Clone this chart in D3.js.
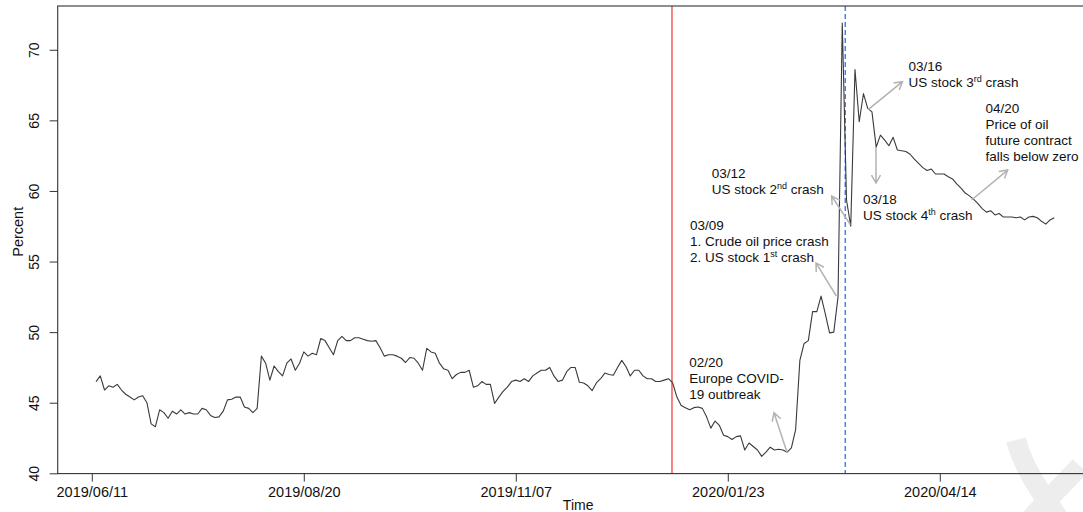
<!DOCTYPE html>
<html><head><meta charset="utf-8">
<script src="https://cdn.jsdelivr.net/npm/d3@7"></script>
<style>
body{margin:0;background:#fff}
svg{display:block}
text{font-family:"Liberation Sans",Arial,Helvetica,sans-serif;fill:#111}
</style>
</head><body>
<svg id="chart" width="1083" height="512"></svg>
<script>
// ---- data (observation index 1..227) ----
const values = [
 46.5,46.9,45.9,46.2,46.1,46.3,45.9,45.6,45.4,45.2,45.4,45.5,45.0,43.5,43.3,44.5,44.3,43.9,44.4,44.2,
 44.5,44.2,44.3,44.2,44.2,44.6,44.5,44.1,43.95,44.0,44.4,45.2,45.25,45.4,45.4,44.7,44.6,44.3,44.6,48.3,
 47.8,46.6,47.6,47.2,46.9,47.8,48.1,47.3,47.8,
 48.6,48.3,48.5,48.4,49.55,49.4,48.9,48.4,49.4,49.7,49.4,49.4,49.6,49.6,49.5,49.4,49.35,49.4,48.9,48.3,
 48.4,48.4,48.3,48.15,47.85,48.2,48.15,47.8,47.3,48.85,48.6,48.5,47.8,47.4,47.3,46.7,47.0,47.15,47.15,47.3,
 46.1,46.2,46.5,46.3,46.3,44.95,45.4,45.8,46.1,
 46.5,46.6,46.5,46.7,46.5,46.9,47.1,47.3,47.3,47.5,46.9,46.5,46.6,47.2,47.5,47.5,46.45,46.4,46.2,45.85,
 46.4,46.7,47.1,47.0,46.95,47.5,48.0,47.55,46.9,47.3,47.3,46.9,46.7,46.7,46.5,46.5,46.6,46.7,46.4,
 45.4,44.8,44.65,44.5,44.65,44.7,44.6,44.0,43.2,43.7,43.4,42.7,42.6,42.4,42.6,42.65,41.65,42.15,41.9,41.65,
 41.2,41.5,41.85,41.65,41.7,41.65,41.5,41.8,43.1,48.0,49.2,49.4,51.45,51.45,52.55,51.3,49.95,50.0,52.5,71.9,
 59.35,57.5,68.6,64.9,66.9,65.85,65.6,63.1,63.95,63.6,63.2,63.8,62.9,62.85,62.8,62.6,62.25,61.95,61.65,61.45,
 61.55,61.2,61.2,61.2,61.0,60.85,60.5,60.2,59.85,59.65,59.4,59.1,58.75,58.5,58.6,58.3,58.4,58.15,58.15,58.15,
 58.1,58.15,57.95,58.15,58.2,58.1,57.85,57.65,57.95,58.1
];
const firstIndex = 1;
const tickIndex = [0, 50, 100, 150, 200];
const tickLabels = ["2019/06/11", "2019/08/20", "2019/11/07", "2020/01/23", "2020/04/14"];
const yTicks = [40, 45, 50, 55, 60, 65, 70];
const eventIndex = [136.84, 177.7];   // 02/20 (red) and 03/12 (blue dashed)

// annotations: text anchor, arrow start, arrow end (index, percent)
const annDates = ["02/20", "03/09", "03/12", "03/16", "03/18", "04/20"];
const annTexts = [
  ["Europe COVID-", "19 outbreak"],
  ["1. Crude oil price crash", "2. US stock 1^st^ crash"],
  ["US stock 2^nd^ crash"],
  ["US stock 3^rd^ crash"],
  ["US stock 4^th^ crash"],
  ["Price of oil", "future contract", "falls below zero"]
];
const annAt   = [[140.9,47.5],[141.1,57.23],[146.2,60.92],[192.6,68.53],[181.9,59.11],[210.8,65.5]];
const annFrom = [[164.0,41.46],[175.6,52.56],[178.9,57.62],[183.1,65.76],[184.95,63.11],[207.5,59.36]];
const annTo   = [[160.9,44.29],[170.8,54.9],[174.5,59.64],[191.2,67.74],[184.95,60.56],[216.0,61.48]];

// ---- drawing ----
const svg = d3.select("#chart");
const n = values.length;
const span = n - 1;
const x = d3.scaleLinear().domain([firstIndex - 0.04*span, firstIndex + span + 0.04*span]).range([57.7, 1092.6]);
const y = d3.scaleLinear().domain([39.98, 73.1]).range([473.6, 6]);
const [x0, x1] = x.range(), [yb, yt] = y.range();

// watermark
const wm = svg.append("g").attr("fill","none").attr("stroke","#ededed").attr("stroke-width",20).attr("stroke-linecap","butt");
wm.append("path").attr("d","M1016,440 C1024,470 1042,494 1060,520");
wm.append("path").attr("d","M1080,466 C1064,484 1046,500 1030,520");

// event lines
svg.append("line").attr("x1",x(eventIndex[0])).attr("x2",x(eventIndex[0])).attr("y1",yt).attr("y2",yb)
  .attr("stroke","#ee3333").attr("stroke-width",1.2);
svg.append("line").attr("x1",x(eventIndex[1])).attr("x2",x(eventIndex[1])).attr("y1",yt).attr("y2",yb)
  .attr("stroke","#2f6bff").attr("stroke-width",1.3).attr("stroke-dasharray","5,3");

// series
const line = d3.line().x((d,i)=>x(firstIndex+i)).y(d=>y(d));
svg.append("path").datum(values).attr("d",line).attr("fill","none")
  .attr("stroke","#3a3a3a").attr("stroke-width",1.1).attr("stroke-linejoin","round");

// frame
svg.append("rect").attr("x",x0).attr("y",yt).attr("width",x1-x0).attr("height",yb-yt)
  .attr("fill","none").attr("stroke","#333").attr("stroke-width",1.1);

// x axis
const gx = svg.append("g").attr("transform",`translate(0,${yb})`)
  .call(d3.axisBottom(x).tickValues(tickIndex).tickFormat((d,i)=>tickLabels[i]).tickSize(8));
gx.select(".domain").remove();
gx.selectAll(".tick line").attr("stroke","#333");
gx.selectAll(".tick text").attr("y",23.5).attr("dy",0).style("font-size","14.5px").attr("fill","#111");

// y axis
const gy = svg.append("g").attr("transform",`translate(${x0},0)`)
  .call(d3.axisLeft(y).tickValues(yTicks).tickSize(8));
gy.select(".domain").remove();
gy.selectAll(".tick line").attr("stroke","#333");
gy.selectAll(".tick text").attr("transform","rotate(-90)").attr("x",0).attr("y",-19).attr("dy",0)
  .attr("text-anchor","middle").style("font-size","14px").attr("fill","#111");

// axis titles
svg.append("text").attr("x",(x0+x1)/2+3).attr("y",510).attr("text-anchor","middle").style("font-size","14px").text("Time");
svg.append("text").attr("transform",`translate(23,${(yt+yb)/2-8}) rotate(-90)`).attr("text-anchor","middle")
  .style("font-size","14.5px").text("Percent");

// annotations
function arrow(g, a, b){
  const [ax,ay] = a, [bx,by] = b;
  const ang = Math.atan2(by-ay, bx-ax), L = 9, t = Math.PI/6;
  const p1 = [bx - L*Math.cos(ang - t), by - L*Math.sin(ang - t)];
  const p2 = [bx - L*Math.cos(ang + t), by - L*Math.sin(ang + t)];
  g.append("path").attr("d",`M${ax},${ay}L${bx},${by}M${p1[0]},${p1[1]}L${bx},${by}L${p2[0]},${p2[1]}`)
    .attr("fill","none").attr("stroke","#b3b3b3").attr("stroke-width",1.5);
}
const ga = svg.append("g");
annDates.forEach((dt,k)=>{
  const tx = x(annAt[k][0]), ty = y(annAt[k][1]);
  const lines = [dt].concat(annTexts[k]);
  lines.forEach((ln,j)=>{
    const t = ga.append("text").attr("x",tx).attr("y",ty + j*16).style("font-size","13.5px");
    let raised = false;
    ln.split("^").forEach((part,p)=>{
      if(p % 2 === 1){
        t.append("tspan").attr("dy",-5).style("font-size","9px").text(part);
        raised = true;
      } else if(part){
        const s = t.append("tspan").text(part);
        if(raised){ s.attr("dy",5); raised = false; }
      }
    });
  });
  arrow(ga, [x(annFrom[k][0]), y(annFrom[k][1])], [x(annTo[k][0]), y(annTo[k][1])]);
});
</script>
</body></html>
